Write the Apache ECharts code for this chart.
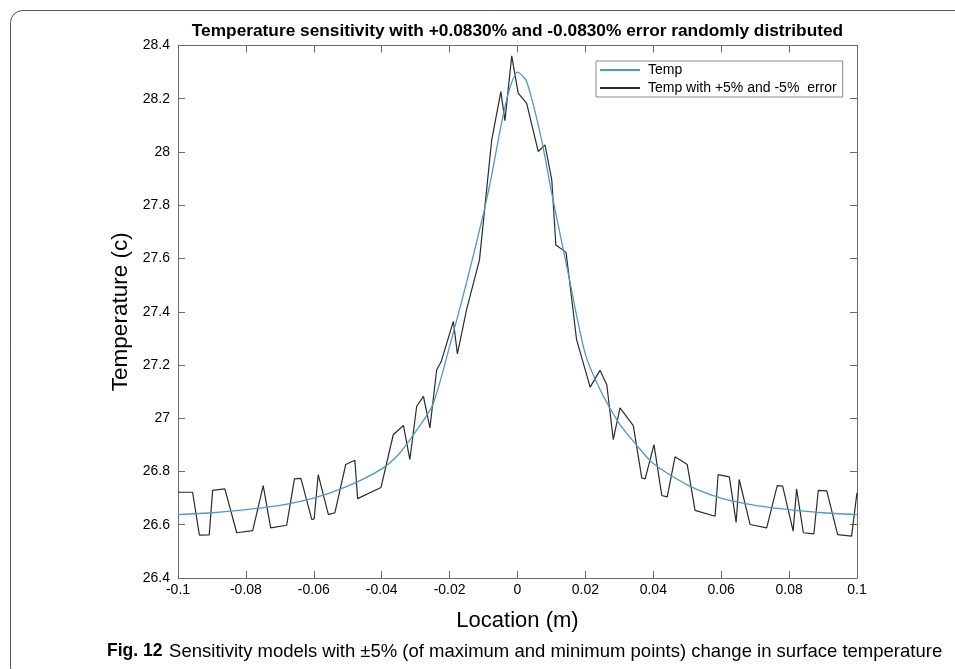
<!DOCTYPE html>
<html>
<head>
<meta charset="utf-8">
<script src="https://cdn.jsdelivr.net/npm/echarts@6/dist/echarts.min.js"></script>
<style>
html,body{margin:0;padding:0;background:#fff;}
#chart{width:955px;height:669px;}
</style>
</head>
<body>
<div id="chart"></div>
<script>
// Smooth "Temp" curve
var tempX = [-0.1, -0.09, -0.08, -0.07, -0.06, -0.05, -0.04, -0.035, -0.03, -0.025, -0.02, -0.015, -0.01, -0.0075, -0.005, -0.0025, 0, 0.0025, 0.005, 0.0075, 0.01, 0.015, 0.02, 0.025, 0.03, 0.035, 0.04, 0.05, 0.06, 0.07, 0.08, 0.09, 0.1];
var tempY = [26.638, 26.645, 26.657, 26.673, 26.70, 26.745, 26.81, 26.865, 26.95, 27.05, 27.27, 27.51, 27.77, 27.92, 28.09, 28.23, 28.30, 28.27, 28.16, 28.02, 27.85, 27.54, 27.24, 27.09, 26.98, 26.90, 26.83, 26.75, 26.70, 26.673, 26.657, 26.645, 26.638];

// "Temp with +5% and -5% error" noisy curve
var noisyX = [-0.1, -0.0957, -0.0937, -0.0908, -0.0898, -0.0862, -0.0827, -0.0780, -0.0749, -0.0727, -0.0680, -0.0657, -0.0638, -0.0606, -0.0599, -0.0587, -0.0557, -0.0538, -0.0506, -0.0479, -0.0471, -0.0402, -0.0366, -0.0336, -0.0317, -0.0297, -0.0277, -0.0258, -0.0238, -0.0225, -0.0189, -0.0177, -0.0150, -0.0112, -0.0096, -0.0076, -0.0049, -0.0037, -0.0017, 0.0002, 0.0027, 0.0061, 0.0081, 0.0101, 0.0113, 0.0143, 0.0160, 0.0174, 0.0214, 0.0243, 0.0263, 0.0282, 0.0302, 0.0341, 0.0366, 0.0376, 0.0402, 0.0425, 0.0441, 0.0464, 0.0500, 0.0523, 0.0582, 0.0591, 0.0624, 0.0644, 0.0653, 0.0685, 0.0734, 0.0765, 0.0781, 0.0812, 0.0822, 0.0842, 0.0873, 0.0886, 0.0911, 0.0943, 0.0984, 0.1];
var noisyY = [26.722, 26.722, 26.561, 26.562, 26.729, 26.735, 26.570, 26.578, 26.747, 26.588, 26.598, 26.772, 26.774, 26.620, 26.622, 26.788, 26.638, 26.645, 26.826, 26.842, 26.698, 26.740, 26.938, 26.973, 26.845, 27.045, 27.082, 26.964, 27.182, 27.212, 27.364, 27.242, 27.408, 27.595, 27.795, 28.045, 28.227, 28.118, 28.361, 28.221, 28.183, 28.002, 28.027, 27.895, 27.651, 27.623, 27.445, 27.295, 27.117, 27.180, 27.126, 26.920, 27.039, 26.972, 26.776, 26.772, 26.901, 26.710, 26.705, 26.855, 26.826, 26.654, 26.632, 26.788, 26.780, 26.609, 26.770, 26.601, 26.588, 26.747, 26.745, 26.576, 26.735, 26.570, 26.566, 26.729, 26.727, 26.563, 26.557, 26.720];

var seriesNames = ['Temp', 'Temp with +5% and -5%  error'];
var titleText = 'Temperature sensitivity with +0.0830% and -0.0830% error randomly distributed';
var xName = 'Location (m)';
var yName = 'Temperature (c)';
var captionBold = 'Fig. 12';
var captionText = 'Sensitivity models with \u00b15% (of maximum and minimum points) change in surface temperature';

function pairs(xs, ys) { return xs.map(function (x, i) { return [x, ys[i]]; }); }

var FONT = '"Liberation Sans", Arial, Helvetica, sans-serif';
var AX = '#6b6b6b';

var chart = echarts.init(document.getElementById('chart'), null, {renderer: 'canvas'});
function axisCommon() {
  return {
    axisLine: {show: true, onZero: false, lineStyle: {color: AX, width: 1}},
    axisTick: {show: true, inside: true, length: 7, lineStyle: {color: AX}},
    splitLine: {show: false}
  };
}
chart.setOption({
  backgroundColor: '#ffffff',
  animation: false,
  textStyle: {fontFamily: FONT},
  title: {
    text: titleText,
    left: 517.5, textAlign: 'center', top: 22.5, padding: 0,
    textStyle: {fontFamily: FONT, fontSize: 17.3, fontWeight: 'bold', color: '#000'}
  },
  grid: {left: 178, right: 98, top: 45.5, bottom: 91, containLabel: false},
  legend: {
    orient: 'vertical', left: 596, top: 61,
    data: seriesNames,
    itemWidth: 40, itemHeight: 14, itemGap: 4,
    padding: [2, 6, 2, 3],
    itemStyle: {opacity: 0},
    borderColor: '#8a8a8a', borderWidth: 1, backgroundColor: '#fff',
    textStyle: {fontFamily: FONT, fontSize: 14, color: '#000', padding: [0, 0, 0, 3]}
  },
  xAxis: [
    Object.assign({
      type: 'value', min: -0.1, max: 0.1, interval: 0.02, position: 'bottom',
      name: xName, nameLocation: 'middle', nameGap: 32,
      nameTextStyle: {fontFamily: FONT, fontSize: 22, color: '#000'},
      axisLabel: {fontFamily: FONT, fontSize: 14, color: '#000', margin: 5,
        formatter: function (v) { return String(+v.toFixed(2)); }}
    }, axisCommon()),
    Object.assign({
      type: 'value', min: -0.1, max: 0.1, interval: 0.02, position: 'top',
      axisLabel: {show: false}
    }, axisCommon())
  ],
  yAxis: [
    Object.assign({
      type: 'value', min: 26.4, max: 28.4, interval: 0.2, position: 'left',
      name: yName, nameLocation: 'middle', nameGap: 46, nameRotate: 90,
      nameTextStyle: {fontFamily: FONT, fontSize: 22.5, color: '#000'},
      axisLabel: {fontFamily: FONT, fontSize: 14, color: '#000', margin: 8,
        formatter: function (v) { return String(+v.toFixed(1)); }}
    }, axisCommon()),
    Object.assign({
      type: 'value', min: 26.4, max: 28.4, interval: 0.2, position: 'right',
      axisLabel: {show: false}
    }, axisCommon())
  ],
  series: [
    {
      name: seriesNames[0], type: 'line', xAxisIndex: 0, yAxisIndex: 0,
      data: pairs(tempX, tempY), symbol: 'none', smooth: 0.25,
      lineStyle: {color: '#5199c4', width: 1.3}, itemStyle: {color: '#5199c4'}, z: 3
    },
    {
      name: seriesNames[1], type: 'line', xAxisIndex: 0, yAxisIndex: 0,
      data: pairs(noisyX, noisyY), symbol: 'none',
      lineStyle: {color: '#2b2b2b', width: 1.2}, itemStyle: {color: '#2b2b2b'}, z: 2
    }
  ],
  graphic: [
    {
      type: 'rect', silent: true, z: -1,
      shape: {x: 10.5, y: 10.5, width: 990, height: 668, r: 12},
      style: {fill: 'none', stroke: '#555', lineWidth: 1}
    },
    {
      type: 'text', left: 107, top: 642, silent: true,
      style: {
        text: '{b|' + captionBold + '}  {r|' + captionText + '}',
        rich: {
          b: {fontFamily: FONT, fontSize: 17.5, fontWeight: 'bold', fill: '#000', color: '#000'},
          r: {fontFamily: FONT, fontSize: 18.5, fill: '#000', color: '#000'}
        }
      }
    }
  ]
});
</script>
</body>
</html>
